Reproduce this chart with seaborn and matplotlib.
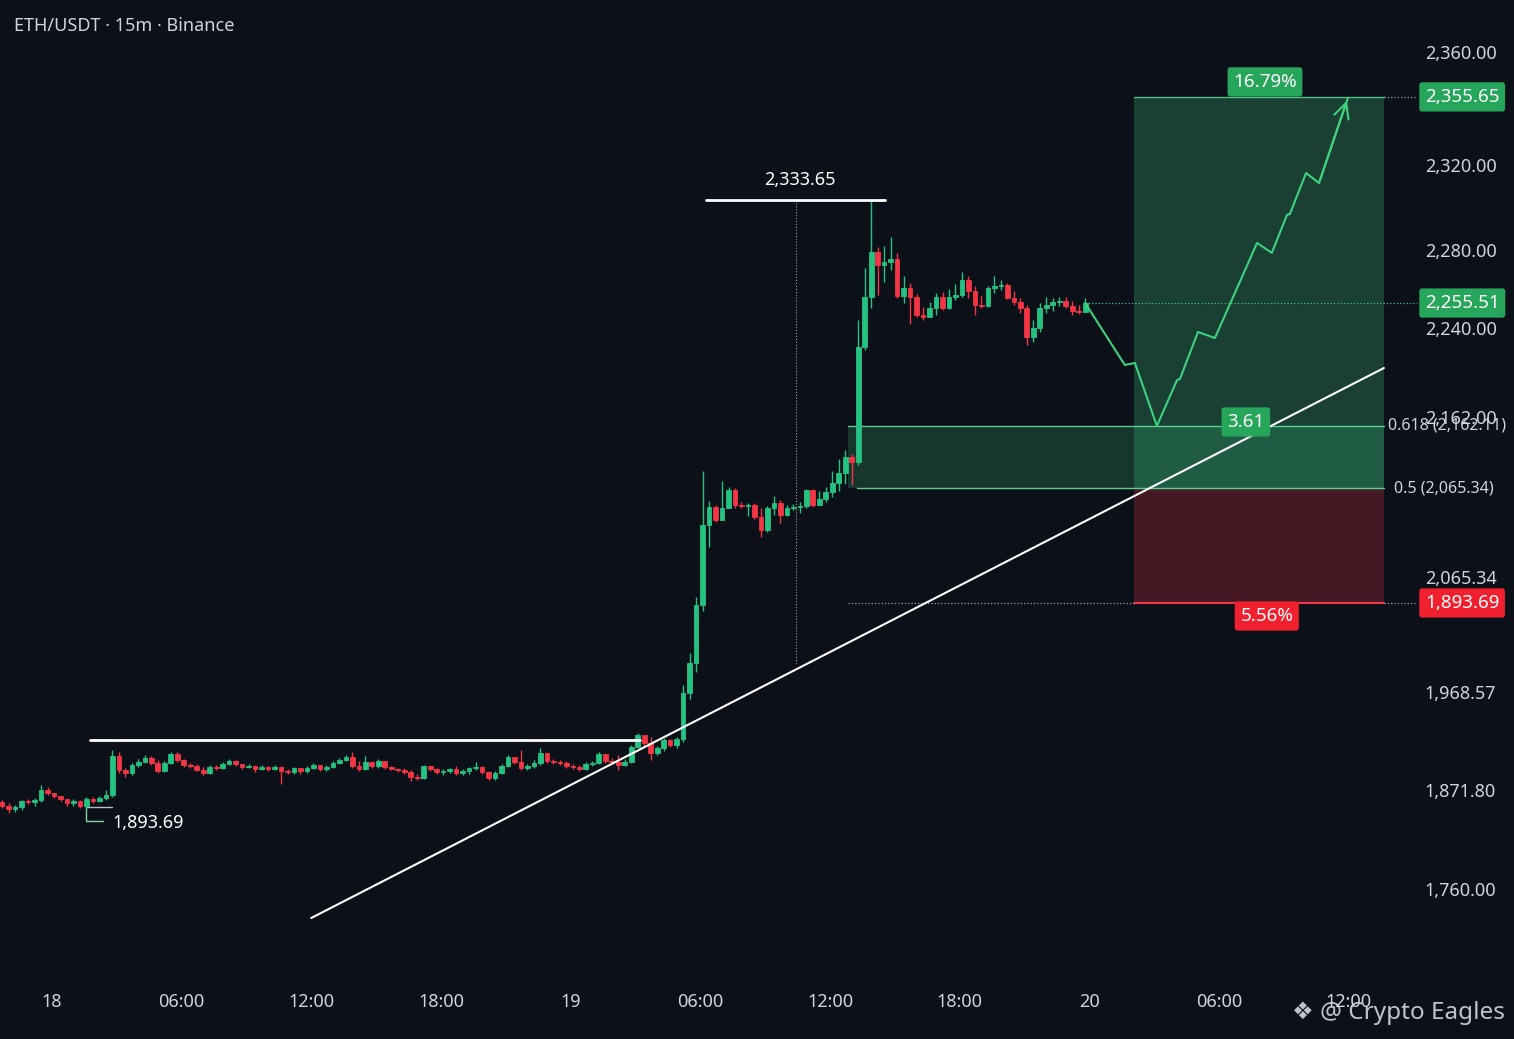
import numpy as np
import pandas as pd
import matplotlib
matplotlib.use('Agg')
import matplotlib.pyplot as plt
import seaborn as sns

# ---- candles (drawn 18 min apart on the time axis of the picture) ----
start = '2023-04-17 21:42'
first_open = 1858.3
close = [
    1853.7, 1850.3, 1852.6, 1859.4, 1858.3, 1860.5, 1871.8, 1868.4, 1865.0, 1861.6,
    1857.1, 1859.4, 1853.7, 1861.6, 1859.4, 1862.8, 1866.2, 1905.4, 1891.5, 1888.6,
    1896.5, 1899.5, 1903.4, 1898.5, 1890.6, 1898.5, 1907.4, 1901.4, 1896.5, 1895.5,
    1891.5, 1888.6, 1894.5, 1893.5, 1897.5, 1900.4, 1897.5, 1894.5, 1895.5, 1892.5,
    1894.5, 1892.5, 1894.5, 1890.6, 1889.6, 1893.5, 1890.6, 1893.5, 1896.5, 1892.5,
    1894.5, 1898.5, 1901.4, 1904.4, 1895.5, 1892.5, 1899.5, 1895.5, 1900.4, 1894.5,
    1892.5, 1891.5, 1889.6, 1884.6, 1883.6, 1895.5, 1892.5, 1889.6, 1890.6, 1892.5,
    1888.6, 1890.6, 1893.5, 1894.5, 1889.6, 1883.6, 1888.6, 1895.5, 1904.4, 1899.5,
    1893.5, 1895.5, 1898.5, 1908.3, 1900.4, 1899.5, 1898.5, 1895.5, 1894.5, 1892.5,
    1897.5, 1898.5, 1907.4, 1900.4, 1899.5, 1896.5, 1899.5, 1914.3, 1926.1, 1918.2,
    1908.3, 1913.3, 1921.2, 1916.2, 1922.2, 1967.6, 1993.0, 2041.8, 2096.8, 2107.6,
    2099.8, 2107.0, 2117.9, 2108.8, 2108.2, 2108.8, 2101.6, 2093.7, 2107.0, 2110.0,
    2102.8, 2107.0, 2107.6, 2108.2, 2117.9, 2108.8, 2112.5, 2116.7, 2122.1, 2128.2,
    2137.8, 2134.8, 2223.3, 2255.9, 2279.0, 2272.3, 2273.8, 2275.4, 2256.4, 2260.5,
    2255.9, 2246.7, 2245.6, 2250.3, 2255.9, 2250.3, 2255.9, 2256.9, 2264.6, 2259.0,
    2251.8, 2251.3, 2260.5, 2261.5, 2262.1, 2255.4, 2253.3, 2250.3, 2232.1, 2240.0,
    2250.3, 2251.8, 2253.3, 2253.8, 2251.3, 2248.7, 2248.2, 2252.8,
]
high = [
    1860.5, 1857.1, 1854.9, 1860.5, 1861.6, 1862.8, 1876.7, 1874.8, 1868.4, 1865.0,
    1861.6, 1861.6, 1860.5, 1863.9, 1863.9, 1865.0, 1871.8, 1911.3, 1909.3, 1893.5,
    1898.5, 1902.4, 1906.4, 1905.4, 1901.4, 1900.4, 1909.3, 1909.3, 1902.4, 1898.5,
    1897.5, 1894.5, 1896.5, 1896.5, 1899.5, 1902.4, 1901.4, 1897.5, 1897.5, 1896.5,
    1896.5, 1895.5, 1896.5, 1895.5, 1892.5, 1894.5, 1892.5, 1895.5, 1898.5, 1895.5,
    1896.5, 1900.4, 1903.4, 1906.4, 1909.3, 1900.4, 1905.4, 1900.4, 1902.4, 1899.5,
    1895.5, 1893.5, 1893.5, 1891.5, 1887.6, 1896.5, 1895.5, 1893.5, 1892.5, 1893.5,
    1895.5, 1892.5, 1894.5, 1899.5, 1895.5, 1890.6, 1890.6, 1897.5, 1906.4, 1903.4,
    1911.3, 1897.5, 1901.4, 1913.3, 1907.4, 1902.4, 1901.4, 1900.4, 1897.5, 1896.5,
    1899.5, 1900.4, 1909.3, 1905.4, 1903.4, 1906.4, 1902.4, 1916.2, 1928.1, 1922.2,
    1924.1, 1915.2, 1923.2, 1922.2, 1924.1, 1974.4, 2001.4, 2048.5, 2129.4, 2111.3,
    2108.8, 2123.3, 2119.7, 2119.1, 2110.7, 2110.0, 2110.0, 2107.0, 2108.2, 2114.3,
    2111.9, 2108.8, 2109.4, 2110.7, 2118.5, 2118.5, 2117.3, 2119.7, 2129.4, 2136.6,
    2142.1, 2139.6, 2244.1, 2270.8, 2303.5, 2281.4, 2281.9, 2286.1, 2278.5, 2266.7,
    2263.1, 2257.4, 2250.8, 2253.3, 2258.0, 2258.5, 2260.0, 2262.6, 2268.7, 2266.7,
    2261.5, 2256.4, 2261.5, 2266.7, 2264.6, 2263.1, 2259.0, 2255.4, 2251.8, 2244.1,
    2252.8, 2255.9, 2255.4, 2255.9, 2255.9, 2253.8, 2251.8, 2255.4,
]
low = [
    1851.5, 1845.8, 1847.0, 1849.2, 1856.0, 1853.7, 1858.3, 1866.2, 1862.8, 1859.4,
    1853.7, 1853.7, 1851.5, 1850.3, 1857.1, 1858.3, 1860.5, 1863.9, 1888.6, 1884.6,
    1886.6, 1894.5, 1898.5, 1896.5, 1888.6, 1889.6, 1897.5, 1899.5, 1894.5, 1893.5,
    1890.6, 1886.6, 1887.6, 1891.5, 1892.5, 1896.5, 1895.5, 1892.5, 1893.5, 1889.6,
    1891.5, 1890.6, 1891.5, 1877.7, 1887.6, 1887.6, 1887.6, 1888.6, 1892.5, 1890.6,
    1890.6, 1893.5, 1897.5, 1900.4, 1893.5, 1890.6, 1891.5, 1893.5, 1893.5, 1892.5,
    1891.5, 1889.6, 1887.6, 1880.7, 1881.7, 1882.7, 1890.6, 1887.6, 1886.6, 1888.6,
    1886.6, 1886.6, 1887.6, 1891.5, 1887.6, 1881.7, 1881.7, 1887.6, 1894.5, 1897.5,
    1891.5, 1891.5, 1893.5, 1896.5, 1898.5, 1897.5, 1896.5, 1893.5, 1892.5, 1890.6,
    1891.5, 1895.5, 1897.5, 1898.5, 1897.5, 1891.5, 1895.5, 1898.5, 1913.3, 1915.2,
    1901.4, 1906.4, 1910.3, 1914.3, 1913.3, 1919.2, 1961.7, 1985.4, 2036.7, 2083.5,
    2098.6, 2101.6, 2108.2, 2107.0, 2107.0, 2102.2, 2100.4, 2089.5, 2092.5, 2102.8,
    2098.0, 2102.2, 2105.8, 2104.0, 2107.0, 2107.6, 2108.8, 2110.7, 2113.7, 2117.3,
    2121.5, 2120.9, 2133.0, 2220.7, 2250.3, 2256.9, 2263.6, 2269.7, 2255.4, 2252.8,
    2242.1, 2245.6, 2244.1, 2245.6, 2246.7, 2249.2, 2249.7, 2254.4, 2255.9, 2255.4,
    2246.7, 2250.3, 2250.8, 2258.0, 2259.5, 2254.9, 2251.8, 2247.7, 2225.1, 2227.7,
    2236.5, 2247.7, 2248.7, 2251.3, 2250.3, 2246.7, 2247.2, 2248.2,
]

# ---- price axis: the labels sit at uneven heights, the scale goes through them ----
tick_prices = [1760.00, 1871.80, 1968.57, 2065.34, 2162.00, 2240.00, 2280.00, 2320.00, 2360.00]
tick_labels = ['1,760.00', '1,871.80', '1,968.57', '2,065.34', '2,162.00',
               '2,240.00', '2,280.00', '2,320.00', '2,360.00']
knot_prices = [1600.0] + tick_prices + [2420.0]
knot_height = [8.3, 150, 249, 347, 462, 622, 711, 789, 874, 987, 1156.5]

# ---- drawings ----
resist_t = ['2023-04-18 01:45', '2023-04-19 03:12']
resist_p = 1921.2
peak_t = ['2023-04-19 06:15', '2023-04-19 14:32']
peak_p = 2303.5
peak_text = '2,333.65'
trend_t = ['2023-04-18 12:00', '2023-04-20 13:37']
trend_p = [1727.3, 2204.9]
low_text = '1,893.69'
fib_618, fib_50 = 2156.6, 2119.1
target, stop = 2344.1, 2043.5
proj_t = ['2023-04-19 23:48', '2023-04-20 01:38', '2023-04-20 02:06', '2023-04-20 03:07',
          '2023-04-20 04:03', '2023-04-20 04:11', '2023-04-20 05:01', '2023-04-20 05:48',
          '2023-04-20 07:45', '2023-04-20 08:26', '2023-04-20 09:08', '2023-04-20 09:16',
          '2023-04-20 10:01', '2023-04-20 10:37', '2023-04-20 11:57']
proj_p = [2252.8, 2207.6, 2209.3, 2156.6, 2194.4, 2195.3, 2236.5, 2231.2,
          2283.3, 2278.5, 2296.5, 2296.9, 2316.2, 2311.5, 2343.7]

BG = '#0c1019'
GREEN = '#26c281'
RED = '#f23645'
TXT = '#d1d4dc'
T = pd.Timestamp


def fwd(p):
    return np.interp(p, knot_prices, knot_height)


def inv(s):
    return np.interp(s, knot_height, knot_prices)


sns.set_theme(style='dark')
plt.rcParams['font.family'] = ['Noto Sans', 'DejaVu Sans']

fig = plt.figure(figsize=(15.14, 10.39), dpi=100, facecolor=BG)
ax = fig.add_axes([0, 64 / 1039, 1390 / 1514, 975 / 1039])
ax.set_facecolor(BG)
ax.set_yscale('function', functions=(fwd, inv))

df = pd.DataFrame({'time': pd.date_range(start, periods=len(close), freq='18min'),
                   'close': close, 'high': high, 'low': low})
df['open'] = [first_open] + close[:-1]
colors = np.where(df['close'] >= df['open'], GREEN, RED)
ax.vlines(df['time'], df['low'], df['high'], colors=colors, lw=1.0, zorder=3)
ax.bar(df['time'], (df['close'] - df['open']).abs(), bottom=df[['open', 'close']].min(axis=1),
       width=0.009, color=colors, edgecolor=colors, linewidth=0.6, zorder=4)

# fib zone and long position
ax.fill_between([T('2023-04-19 12:49'), T('2023-04-20 13:37')], fib_50, fib_618,
                color='#3bbf7a', alpha=0.22, lw=0, zorder=1)
ax.fill_between([T('2023-04-20 02:03'), T('2023-04-20 13:37')], fib_50, target,
                color='#3bbf7a', alpha=0.28, lw=0, zorder=1)
ax.fill_between([T('2023-04-20 02:03'), T('2023-04-20 13:37')], stop, fib_50,
                color=RED, alpha=0.25, lw=0, zorder=1)
ax.plot([T('2023-04-19 12:49'), T('2023-04-20 13:37')], [fib_618] * 2, color='#5ad08c', lw=1, zorder=2)
ax.plot([T('2023-04-19 13:14'), T('2023-04-20 13:37')], [fib_50] * 2, color='#5ad08c', lw=1, zorder=2)
ax.plot([T('2023-04-20 02:03'), T('2023-04-20 13:37')], [target] * 2, color='#4cc07e', lw=1, zorder=2)
ax.plot([T('2023-04-20 02:03'), T('2023-04-20 13:37')], [stop] * 2, color=RED, lw=1.5, zorder=2)
ax.plot([T('2023-04-19 12:49'), T('2023-04-20 02:03')], [stop] * 2, color='#9aa0aa', lw=0.9, ls=':')
ax.plot([T('2023-04-20 13:37'), T('2023-04-20 15:09')], [stop] * 2, color='#9aa0aa', lw=0.9, ls=':', clip_on=False)
ax.plot([T('2023-04-20 13:37'), T('2023-04-20 15:09')], [target] * 2, color='#9aa0aa', lw=0.9, ls=':', clip_on=False)
ax.plot([df['time'].iloc[-1], T('2023-04-20 15:09')], [close[-1]] * 2, color='#4cc07e', lw=0.9, ls=':', clip_on=False)

# white drawings
ax.plot([T(t) for t in resist_t], [resist_p] * 2, color='white', lw=2, zorder=5)
ax.plot([T(t) for t in peak_t], [peak_p] * 2, color='white', lw=2, zorder=5)
ax.plot([T('2023-04-19 10:25')] * 2, [peak_p, 1991.3], color='#9aa0aa', lw=0.8, ls=':', zorder=2)
ax.text(T('2023-04-19 10:36'), 2312.9, peak_text, color='white', fontsize=13, ha='center', va='center')
sns.lineplot(x=[T(t) for t in trend_t], y=trend_p, ax=ax, color='white', lw=1.5, zorder=5)

# low marker
ax.plot([T('2023-04-18 01:34'), T('2023-04-18 01:34'), T('2023-04-18 02:22')],
        [1852.6, 1836.8, 1836.8], color='#7fd6a4', lw=1)
ax.plot([T('2023-04-18 01:34'), T('2023-04-18 02:47')], [1852.6] * 2, color='#b8bcc4', lw=1)
ax.text(T('2023-04-18 02:49'), 1834.5, low_text, color='white', fontsize=13, va='center')

# projected path
sns.lineplot(x=[T(t) for t in proj_t], y=proj_p, ax=ax, color='#3fd17f', lw=1.5,
             sort=False, estimator=None, zorder=6)
ax.annotate('', xy=(T(proj_t[-1]), proj_p[-1]), xytext=(T(proj_t[-2]), proj_p[-2]),
            arrowprops=dict(arrowstyle='->,head_length=0.9,head_width=0.45', color='#3fd17f', lw=1.5),
            zorder=6)

# value boxes
def badge(x, y, s, fc, ha='center'):
    ax.text(x, y, s, color='white', fontsize=13.5, ha=ha, va='center', zorder=8, clip_on=False,
            bbox=dict(boxstyle='round,pad=0.3,rounding_size=0.15', fc=fc, ec='none'))


badge(T('2023-04-20 08:07'), 2349.4, '16.79%', '#26a65b')
badge(T('2023-04-20 08:12'), 2032.5, '5.56%', '#f0202e')
badge(T('2023-04-20 07:14'), 2159.0, '3.61', '#26a65b')
badge(T('2023-04-20 15:31'), target, '2,355.65', '#26a65b', ha='left')
badge(T('2023-04-20 15:31'), close[-1], '2,255.51', '#26a65b', ha='left')
badge(T('2023-04-20 15:31'), stop, '1,893.69', '#f0202e', ha='left')
ax.text(T('2023-04-20 13:48'), fib_618, '0.618 (2,162.11)', color=TXT, fontsize=11.5, va='center', clip_on=False)
ax.text(T('2023-04-20 14:05'), fib_50, '0.5 (2,065.34)', color=TXT, fontsize=11.5, va='center', clip_on=False)

# axes
ax.set_xlim(T('2023-04-17 21:36'), T('2023-04-20 13:54'))
ax.set_ylim(1662.9, 2378.4)
xt = pd.date_range('2023-04-18 00:00', '2023-04-20 12:00', freq='6h')
ax.set_xticks(xt)
ax.set_xticklabels([str(t.day) if t.hour == 0 else t.strftime('%H:%M') for t in xt])
for lab, t in zip(ax.get_xticklabels(), xt):
    if t.hour == 0:
        lab.set_fontweight('bold')
ax.yaxis.tick_right()
ax.set_yticks(tick_prices)
ax.set_yticklabels(tick_labels)
ax.minorticks_off()
ax.tick_params(axis='x', length=0, colors=TXT, labelsize=13, pad=13)
ax.tick_params(axis='y', length=0, colors=TXT, labelsize=13, pad=25)
ax.grid(False)
for sp in ax.spines.values():
    sp.set_visible(False)
ax.set_xlabel('')
ax.set_ylabel('')

fig.text(14 / 1514, 1 - 26 / 1039, 'ETH/USDT · 15m · Binance', color=TXT, fontsize=13, va='center')
fig.text(1292 / 1514, 1 - 1013 / 1039, '❖ @ Crypto Eagles', color='#d5d8de', fontsize=17.5,
         va='center', alpha=0.9)

fig.savefig('out.png', dpi=100, facecolor=BG)
